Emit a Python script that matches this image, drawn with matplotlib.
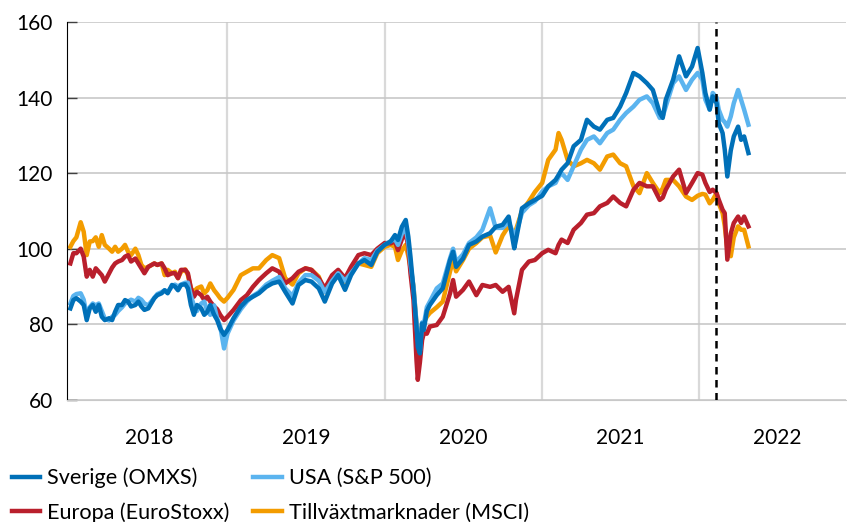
import pandas as pd
import matplotlib.pyplot as plt

plt.rcParams['font.family'] = ['Lato', 'DejaVu Sans']

# Index values, one row per date
dates = [
    '2018-01-01', '2018-01-08', '2018-01-15', '2018-01-25', '2018-02-01', '2018-02-08', '2018-02-15', '2018-02-22',
    '2018-03-01', '2018-03-08', '2018-03-15', '2018-03-22', '2018-04-01', '2018-04-08', '2018-04-15', '2018-04-22',
    '2018-05-01', '2018-05-08', '2018-05-15', '2018-05-22', '2018-06-01', '2018-06-08', '2018-06-15', '2018-06-22',
    '2018-07-01', '2018-07-15', '2018-07-22', '2018-08-01', '2018-08-08', '2018-08-15', '2018-08-25', '2018-09-01',
    '2018-09-08', '2018-09-15', '2018-09-25', '2018-10-01', '2018-10-08', '2018-10-15', '2018-10-22', '2018-11-01',
    '2018-11-08', '2018-11-15', '2018-11-22', '2018-12-01', '2018-12-08', '2018-12-15', '2018-12-24',
    '2019-01-01', '2019-01-15', '2019-02-01', '2019-02-15', '2019-03-01', '2019-03-15', '2019-04-01', '2019-04-15',
    '2019-05-01', '2019-05-15', '2019-06-01', '2019-06-15', '2019-07-01', '2019-07-15', '2019-08-01', '2019-08-15',
    '2019-09-01', '2019-09-15', '2019-10-01', '2019-10-15', '2019-11-01', '2019-11-15', '2019-12-01', '2019-12-15',
    '2020-01-01', '2020-01-15', '2020-01-25', '2020-02-01', '2020-02-10', '2020-02-19', '2020-02-25', '2020-03-01',
    '2020-03-08', '2020-03-15', '2020-03-18', '2020-03-23', '2020-03-28', '2020-04-01', '2020-04-08', '2020-04-15',
    '2020-05-01', '2020-05-15', '2020-06-01', '2020-06-08', '2020-06-15', '2020-07-01', '2020-07-15', '2020-08-01',
    '2020-08-15', '2020-09-02', '2020-09-15', '2020-10-01', '2020-10-15', '2020-10-28', '2020-11-01', '2020-11-15',
    '2020-12-01', '2020-12-15',
    '2021-01-01', '2021-01-15', '2021-02-01', '2021-02-08', '2021-02-15', '2021-03-01', '2021-03-15', '2021-04-01',
    '2021-04-15', '2021-05-01', '2021-05-15', '2021-06-01', '2021-06-15', '2021-07-01', '2021-07-15', '2021-08-01',
    '2021-08-15', '2021-09-01', '2021-09-15', '2021-10-01', '2021-10-08', '2021-10-15', '2021-11-01', '2021-11-15',
    '2021-12-01', '2021-12-15', '2021-12-28',
    '2022-01-08', '2022-01-15', '2022-01-25', '2022-02-01', '2022-02-10', '2022-02-15', '2022-02-24', '2022-03-01',
    '2022-03-07', '2022-03-15', '2022-03-22', '2022-04-01', '2022-04-08', '2022-04-15', '2022-04-25',
]

sverige = [
    84.2, 86.4, 86.9, 86.0, 85.1, 81.1, 84.2, 85.1,
    83.3, 85.1, 82.0, 81.1, 81.6, 81.1, 83.3, 85.1,
    85.1, 86.4, 86.0, 84.7, 85.1, 86.0, 84.7, 83.8,
    84.2, 86.9, 87.7, 88.2, 89.0, 88.2, 90.4, 90.0,
    89.0, 90.4, 90.6, 89.5, 85.1, 82.5, 85.1, 84.2,
    82.5, 83.3, 85.1, 82.5, 81.1, 78.9, 77.2,
    78.5, 81.6, 84.7, 86.4, 87.3, 88.2, 89.9, 90.8,
    91.3, 88.6, 85.5, 90.4, 91.7, 91.3, 89.5, 86.0,
    90.8, 93.0, 89.1, 93.0, 96.1, 97.0, 95.7, 99.2,
    101.0, 101.9, 103.6, 102.3, 105.8, 107.6, 103.2, 97.9,
    89.1, 79.4, 74.0, 72.3, 80.2, 78.5, 83.5, 85.1,
    87.7, 89.5, 97.0, 99.2, 95.2, 97.4, 101.0, 101.9,
    103.2, 104.1, 105.8, 106.3, 108.5, 100.1, 102.3, 110.7,
    112.0, 112.9,
    114.0, 116.5, 118.2, 119.5, 120.9, 122.6, 127.1, 128.8,
    134.1, 132.3, 131.5, 134.1, 134.6, 137.6, 141.2, 146.5,
    145.6, 143.8, 142.0, 135.9, 134.6, 139.4, 144.7, 150.9,
    145.6, 148.2, 153.1,
    146.5, 141.2, 136.8, 140.3, 138.5, 133.2, 130.6, 126.2,
    119.1, 126.0, 129.7, 132.3, 128.8, 129.7, 125.3,
]

usa = [
    85.5, 87.5, 88.0, 88.2, 86.5, 82.5, 84.5, 85.5,
    85.0, 85.5, 83.5, 81.5, 81.0, 82.0, 82.5, 83.5,
    84.5, 85.5, 86.0, 86.5, 86.0, 87.0, 86.5, 85.5,
    85.0, 87.0, 88.0, 88.5, 89.0, 88.5, 90.0, 90.5,
    90.0, 90.5, 91.0, 91.0, 87.5, 85.0, 83.5, 85.5,
    86.0, 83.5, 82.5, 85.0, 81.5, 79.5, 73.6,
    77.5, 81.0, 84.0, 86.0, 87.5, 88.5, 90.5, 91.5,
    92.5, 89.5, 87.5, 91.0, 93.0, 93.0, 91.5, 88.5,
    91.5, 93.5, 91.5, 93.5, 96.0, 97.5, 97.0, 99.5,
    101.0, 102.0, 102.5, 101.0, 104.0, 105.5, 101.5, 96.0,
    90.0, 80.0, 76.0, 73.0, 80.5, 80.0, 84.5, 86.0,
    89.5, 90.8, 97.5, 100.0, 96.5, 98.5, 101.5, 103.0,
    105.0, 110.7, 105.5, 105.5, 107.0, 103.6, 104.0, 109.5,
    111.5, 112.5,
    115.1, 116.5, 117.4, 119.0, 120.0, 118.2, 121.8, 126.2,
    128.8, 129.7, 127.9, 130.6, 131.5, 134.1, 135.9, 137.6,
    139.4, 140.3, 138.5, 134.6, 135.0, 137.6, 143.8, 145.6,
    142.0, 144.7, 146.5,
    144.7, 139.4, 136.8, 141.2, 140.0, 136.8, 134.1, 133.5,
    132.3, 135.0, 138.5, 142.0, 139.4, 136.8, 132.8,
]

europa = [
    96.1, 98.8, 98.8, 100.0, 97.9, 92.6, 94.4, 92.6,
    94.8, 93.9, 93.0, 91.3, 93.5, 95.0, 96.1, 96.6,
    97.0, 97.9, 98.3, 96.6, 97.4, 96.1, 94.8, 93.5,
    95.2, 96.1, 95.7, 96.1, 94.8, 93.0, 93.5, 93.5,
    92.2, 94.4, 94.4, 93.5, 89.5, 87.3, 88.6, 87.7,
    86.4, 87.3, 86.0, 84.7, 84.0, 82.5, 81.1,
    82.0, 83.8, 86.4, 87.7, 89.9, 91.7, 93.5, 94.8,
    93.9, 90.8, 92.2, 93.9, 94.8, 94.4, 92.2, 89.5,
    93.0, 94.4, 92.2, 95.2, 98.3, 98.8, 98.3, 100.0,
    101.5, 101.4, 102.0, 99.6, 102.5, 104.1, 100.5, 93.5,
    86.4, 70.5, 65.3, 70.0, 75.8, 77.6, 77.5, 79.4,
    79.8, 82.0, 88.2, 91.7, 87.3, 89.1, 91.3, 87.7,
    90.4, 89.9, 90.4, 88.6, 89.9, 82.9, 86.4, 94.4,
    96.6, 97.0,
    98.8, 99.7, 98.8, 101.0, 102.4, 101.5, 105.0, 106.8,
    109.0, 109.4, 111.2, 112.1, 113.8, 112.1, 111.2, 115.6,
    117.4, 116.5, 116.5, 112.9, 113.5, 115.6, 119.1, 120.9,
    114.7, 117.4, 120.0,
    119.6, 117.4, 115.0, 115.6, 114.7, 113.0, 110.3, 109.4,
    97.1, 104.0, 106.8, 108.5, 106.8, 108.5, 105.9,
]

tillvaxt = [
    100.5, 102.0, 103.0, 107.0, 104.5, 98.3, 101.9, 102.0,
    103.0, 100.5, 103.6, 101.0, 100.0, 99.2, 100.5, 99.2,
    100.0, 101.0, 99.2, 98.3, 100.0, 98.3, 95.7, 94.8,
    95.2, 96.1, 95.7, 96.1, 93.0, 94.4, 93.5, 93.9,
    92.2, 93.9, 94.5, 93.0, 89.5, 88.6, 89.5, 90.0,
    88.2, 89.0, 90.8, 89.0, 88.0, 86.9, 86.0,
    87.0, 89.1, 93.0, 93.9, 94.8, 94.8, 97.0, 98.3,
    97.5, 92.2, 90.5, 93.5, 94.8, 94.4, 92.6, 88.5,
    91.0, 93.9, 91.3, 94.4, 96.1, 95.7, 95.2, 98.8,
    100.5, 101.0, 100.5, 97.0, 99.5, 101.0, 98.0, 95.0,
    90.0, 80.0, 76.5, 75.8, 80.0, 80.5, 82.0, 83.0,
    84.5, 86.0, 94.0, 97.0, 94.0, 97.0, 100.0, 101.5,
    103.0, 103.5, 99.0, 103.5, 106.0, 104.0, 105.0, 110.0,
    112.5, 115.0,
    117.4, 123.5, 126.2, 130.6, 128.8, 123.5, 121.8, 122.6,
    123.5, 122.6, 120.9, 124.4, 124.9, 122.6, 121.8, 116.5,
    114.7, 120.0, 117.4, 114.7, 116.0, 118.2, 118.2, 116.5,
    113.8, 112.9, 114.0,
    114.5, 114.3, 112.0, 112.9, 114.7, 112.0, 109.4, 106.0,
    100.0, 98.0, 103.0, 105.9, 105.0, 105.0, 100.6,
]

marker_date = '2022-02-09'   # dashed vertical line
years = [2018, 2019, 2020, 2021, 2022]

x = pd.to_datetime(dates)

fig = plt.figure(figsize=(8.47, 5.22), dpi=100)
ax = fig.add_axes([0.079, 0.234, 0.920, 0.724])

# drawing order: emerging markets at the back, Sweden on top
l_t, = ax.plot(x, tillvaxt, color='#F39C00', lw=3.2, label='Tillväxtmarknader (MSCI)')
l_e, = ax.plot(x, europa, color='#B91F2C', lw=3.2, label='Europa (EuroStoxx)')
l_u, = ax.plot(x, usa, color='#5BB4EF', lw=3.2, label='USA (S&P 500)')
l_s, = ax.plot(x, sverige, color='#0070B8', lw=3.2, label='Sverige (OMXS)')

ax.axvline(pd.Timestamp(marker_date), color='black', lw=1.8, ls=(0, (3, 2.2)), zorder=5)

ax.set_xlim(pd.Timestamp('2017-12-24'), pd.Timestamp('2022-12-08'))
ax.set_ylim(60, 160)
ax.set_yticks([60, 80, 100, 120, 140, 160])

# year boundaries as gridlines, labels in the middle of each year
ax.set_xticks([pd.Timestamp(f'{y}-01-01') for y in years[1:]])
ax.set_xticklabels([])
ax.set_xticks([pd.Timestamp(f'{y}-07-02') for y in years], minor=True)
ax.set_xticklabels([str(y) for y in years], minor=True)
ax.tick_params(axis='x', which='both', length=0, labelsize=15, pad=20)
ax.tick_params(axis='y', direction='in', length=7, width=1, color='#404040', labelsize=15, pad=10)

ax.grid(axis='y', color='#C8C8C8', lw=1.2)
ax.grid(axis='x', which='major', color='#D9D9D9', lw=1.6)
ax.set_axisbelow(True)

for side in ['top', 'right']:
    ax.spines[side].set_visible(False)
ax.spines['bottom'].set_color('#C8C8C8')
ax.spines['left'].set_color('black')

fig.legend(handles=[l_s, l_e, l_u, l_t], ncol=2, loc='upper left',
           bbox_to_anchor=(5 / 847, 1 - 461 / 522), frameon=False, fontsize=15.6,
           handlelength=1.3, handletextpad=0.35, columnspacing=1.1,
           labelspacing=0.66, borderaxespad=0, borderpad=0.3)

fig.savefig('out.png', dpi=100)
